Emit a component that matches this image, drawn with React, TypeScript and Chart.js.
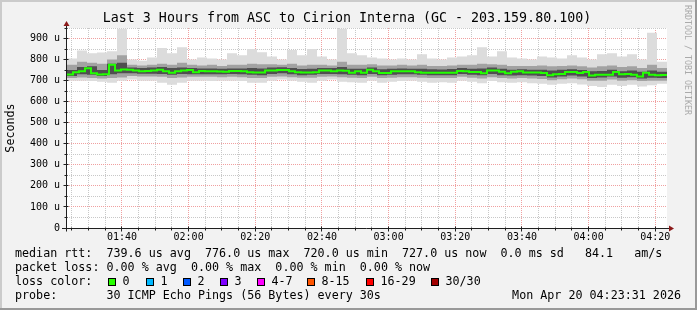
import React, { useEffect, useRef } from "react";
import { Chart, registerables } from "chart.js";
Chart.register(...registerables);

// ---------- text ----------
const titleText = "Last 3 Hours from ASC to Cirion Interna (GC - 203.159.80.100)";
const yAxisTitle = "Seconds";
const watermark = "RRDTOOL / TOBI OETIKER";
const statsMedian = "median rtt:  739.6 us avg  776.0 us max  720.0 us min  727.0 us now  0.0 ms sd   84.1   am/s";
const statsLoss = "packet loss: 0.00 % avg  0.00 % max  0.00 % min  0.00 % now";
const lossTitle = "loss color:";
const probeText = "probe:       30 ICMP Echo Pings (56 Bytes) every 30s";
const dateText = "Mon Apr 20 04:23:31 2026";
const lossLabels = ["0", "1", "2", "3", "4-7", "8-15", "16-29", "30/30"];
const lossColors = ["#26ff00", "#00b8ff", "#0059ff", "#7e00ff", "#ff00ff", "#ff5500", "#ff0000", "#a10000"];

// ---------- time axis (minutes after midnight) ----------
const startMinute = 83 + 31 / 60; // 01:23:31
const endMinute = startMinute + 180; // 04:23:31
const medianStepMin = 1.8;
const smokeStepMin = 3;
const xMajorMinutes = [100, 120, 140, 160, 180, 200, 220, 240, 260];
const xMajorLabels = ["01:40", "02:00", "02:20", "02:40", "03:00", "03:20", "03:40", "04:00", "04:20"];
const xMinorMinutes = [85, 90, 95, 105, 110, 115, 125, 130, 135, 145, 150, 155, 165, 170, 175, 185, 190, 195, 205, 210, 215, 225, 230, 235, 245, 250, 255];

// ---------- value axis (microseconds) ----------
const yMin = 0;
const yMax = 950;
const yMajorValues = [0, 100, 200, 300, 400, 500, 600, 700, 800, 900];
const yMajorLabels = ["0", "100 u", "200 u", "300 u", "400 u", "500 u", "600 u", "700 u", "800 u", "900 u"];
const yMinorValues = [50, 150, 250, 350, 450, 550, 650, 750, 850, 950];

// ---------- series ----------
const medianRtt = [
  729, 740, 745, 759, 735, 729, 730, 775, 748, 753,
  752, 748, 744, 746, 748, 752, 744, 737, 744, 748,
  750, 740, 746, 744, 744, 743, 742, 746, 746, 744,
  740, 739, 739, 748, 748, 751, 751, 744, 740, 739,
  739, 740, 748, 748, 744, 748, 747, 737, 744, 737,
  752, 745, 736, 736, 744, 744, 744, 744, 740, 738,
  737, 737, 737, 737, 737, 746, 744, 741, 741, 735,
  748, 748, 742, 735, 742, 744, 739, 739, 739, 736,
  725, 730, 731, 741, 741, 736, 741, 724, 728, 728,
  728, 741, 730, 732, 728, 720, 738, 728, 726, 727,
];
const smokeMax = [
  805, 843, 830, 834, 840, 947, 800, 795, 810, 855,
  830, 858, 800, 810, 805, 800, 830, 820, 850, 835,
  815, 800, 845, 820, 850, 815, 800, 947, 830, 820,
  810, 805, 800, 805, 800, 825, 805, 800, 810, 815,
  820, 858, 815, 840, 810, 805, 800, 815, 810, 805,
  820, 810, 800, 825, 830, 815, 825, 800, 928, 790,
];
const smokeUpperMid = [
  775, 790, 785, 780, 800, 820, 775, 772, 775, 780,
  775, 785, 775, 772, 775, 770, 775, 775, 780, 778,
  778, 775, 780, 772, 775, 775, 772, 790, 775, 775,
  778, 772, 772, 775, 772, 775, 770, 770, 772, 775,
  775, 780, 778, 775, 770, 770, 770, 772, 768, 770,
  772, 768, 762, 768, 772, 765, 768, 760, 775, 760,
];
const smokeUpperCore = [
  750, 765, 768, 750, 780, 785, 762, 760, 762, 765,
  760, 762, 760, 758, 758, 756, 758, 758, 760, 758,
  762, 763, 760, 755, 756, 760, 760, 765, 757, 757,
  762, 754, 756, 758, 757, 757, 754, 753, 755, 760,
  756, 758, 762, 756, 752, 754, 752, 752, 748, 752,
  754, 750, 745, 746, 752, 745, 748, 742, 748, 742,
];
const smokeLowerCore = [
  722, 730, 728, 722, 730, 735, 735, 733, 733, 732,
  728, 732, 730, 730, 730, 730, 732, 730, 728, 726,
  732, 735, 730, 726, 728, 732, 732, 730, 728, 726,
  732, 726, 728, 730, 730, 728, 726, 726, 726, 732,
  728, 726, 732, 726, 724, 726, 724, 722, 715, 720,
  724, 720, 712, 715, 720, 714, 716, 710, 714, 712,
];
const smokeLowerMid = [
  712, 715, 712, 710, 712, 715, 722, 720, 720, 718,
  712, 715, 718, 718, 718, 716, 718, 716, 712, 712,
  718, 720, 716, 714, 714, 718, 720, 716, 714, 712,
  718, 712, 714, 716, 716, 714, 712, 712, 712, 718,
  714, 710, 716, 712, 710, 712, 710, 708, 702, 706,
  710, 706, 700, 700, 705, 700, 702, 698, 700, 700,
];
const smokeMin = [
  700, 700, 698, 695, 690, 700, 705, 700, 700, 690,
  680, 690, 700, 700, 698, 700, 700, 698, 690, 690,
  700, 705, 700, 695, 690, 700, 705, 695, 692, 690,
  700, 690, 695, 698, 700, 695, 690, 692, 690, 700,
  695, 688, 698, 692, 690, 692, 688, 685, 680, 685,
  688, 682, 675, 670, 680, 675, 680, 672, 678, 685,
];

function toPoints(values: number[], step: number) {
  const pts = values.map((v, i) => ({ x: startMinute + i * step, y: v }));
  pts.push({ x: startMinute + values.length * step, y: values[values.length - 1] });
  return pts;
}

const MONO = "'DejaVu Sans Mono', monospace";
const MAJOR_GRID = "#f0a0a0";
const MINOR_GRID = "#c8c8c8";
const AXIS = "#1f1f1f";
const ARROW = "#8b1a1a";

function align(p: number) {
  return Math.round(p - 0.5) + 0.5;
}

const decor = {
  id: "decor",
  beforeDraw(chart: any) {
    const { ctx, chartArea: a, width, height } = chart;
    ctx.save();
    ctx.fillStyle = "#f2f2f2";
    ctx.fillRect(0, 0, width, height);
    ctx.fillStyle = "#cbcbcb";
    ctx.fillRect(0, 0, width, 2);
    ctx.fillRect(0, 0, 2, height);
    ctx.fillStyle = "#999999";
    ctx.fillRect(0, height - 2, width, 2);
    ctx.fillRect(width - 2, 0, 2, height);
    ctx.fillStyle = "#ffffff";
    ctx.fillRect(a.left, a.top, a.right - a.left, a.bottom - a.top);
    ctx.restore();
  },
  afterDraw(chart: any) {
    const { ctx, chartArea: a, scales } = chart;
    const xs = scales.x;
    const ys = scales.y;
    ctx.save();
    // axes
    const axX = a.left - 0.5;
    const axY = align(ys.getPixelForValue(0));
    ctx.strokeStyle = AXIS;
    ctx.lineWidth = 1;
    ctx.beginPath();
    ctx.moveTo(axX, axY + 3);
    ctx.lineTo(axX, a.top - 5);
    ctx.moveTo(a.left - 5, axY);
    ctx.lineTo(a.right + 4, axY);
    yMajorValues.forEach((v) => {
      const p = align(ys.getPixelForValue(v));
      ctx.moveTo(axX - 3, p);
      ctx.lineTo(axX + 2, p);
    });
    yMinorValues.forEach((v) => {
      const p = align(ys.getPixelForValue(v));
      ctx.moveTo(axX - 2, p);
      ctx.lineTo(axX + 1, p);
    });
    xMajorMinutes.forEach((m) => {
      const p = align(xs.getPixelForValue(m));
      ctx.moveTo(p, axY - 2);
      ctx.lineTo(p, axY + 3);
    });
    xMinorMinutes.forEach((m) => {
      const p = align(xs.getPixelForValue(m));
      ctx.moveTo(p, axY - 1);
      ctx.lineTo(p, axY + 2);
    });
    ctx.stroke();
    // arrows
    ctx.fillStyle = ARROW;
    ctx.beginPath();
    ctx.moveTo(axX, a.top - 7);
    ctx.lineTo(axX - 3, a.top - 2);
    ctx.lineTo(axX + 3, a.top - 2);
    ctx.closePath();
    ctx.fill();
    ctx.beginPath();
    ctx.moveTo(a.right + 7, axY);
    ctx.lineTo(a.right + 2, axY - 3);
    ctx.lineTo(a.right + 2, axY + 3);
    ctx.closePath();
    ctx.fill();

    // title
    ctx.fillStyle = "#000";
    ctx.textBaseline = "middle";
    ctx.textAlign = "center";
    ctx.font = `13.3px ${MONO}`;
    ctx.fillText(titleText, 347, 19);

    // y axis title
    ctx.save();
    ctx.font = `11.7px ${MONO}`;
    ctx.translate(11, (a.top + a.bottom) / 2);
    ctx.rotate(-Math.PI / 2);
    ctx.fillText(yAxisTitle, 0, 0);
    ctx.restore();

    // watermark
    ctx.save();
    ctx.font = `8.3px ${MONO}`;
    ctx.fillStyle = "#aaaaaa";
    ctx.textAlign = "left";
    ctx.translate(687.5, 5);
    ctx.rotate(Math.PI / 2);
    ctx.fillText(watermark, 0, 0);
    ctx.restore();

    // legend
    ctx.font = `11.7px ${MONO}`;
    ctx.textAlign = "left";
    ctx.fillStyle = "#000";
    ctx.fillText(statsMedian, 15, 254);
    ctx.fillText(statsLoss, 15, 268);
    ctx.fillText(lossTitle, 15, 282);
    ctx.fillText(probeText, 15, 296);
    ctx.textAlign = "right";
    ctx.fillText(dateText, 681, 296);
    ctx.textAlign = "left";
    const boxX = [108, 145.5, 182.5, 219.5, 256.5, 307, 366, 431];
    lossLabels.forEach((lab, i) => {
      const bx = Math.round(boxX[i]);
      ctx.fillStyle = lossColors[i];
      ctx.fillRect(bx, 278, 8, 8);
      ctx.strokeStyle = "#000";
      ctx.strokeRect(bx + 0.5, 278.5, 7, 7);
      ctx.fillStyle = "#000";
      ctx.fillText(lab, bx + 14.5, 282);
    });
    ctx.restore();
  },
};

export default function App() {
  const ref = useRef<HTMLCanvasElement>(null);
  useEffect(() => {
    const canvas = ref.current;
    if (!canvas) return;
    const band = (data: number[], bg: string | false, target?: number) => ({
      data: toPoints(data, smokeStepMin),
      stepped: true,
      borderColor: "rgba(0,0,0,0)",
      borderWidth: 0,
      pointRadius: 0,
      backgroundColor: bg || "rgba(0,0,0,0)",
      fill: target === undefined ? false : target,
    });
    const chart = new Chart(canvas, {
      type: "line",
      data: {
        datasets: [
          {
            data: toPoints(medianRtt, medianStepMin),
            stepped: true,
            borderColor: "#22ff00",
            borderWidth: 2,
            pointRadius: 0,
            fill: false,
          } as any,
          band(smokeUpperCore, "#4f4f4f", 2),
          band(smokeLowerCore, false),
          band(smokeUpperMid, "#a2a2a2", 4),
          band(smokeLowerMid, false),
          band(smokeMax, "#dcdcdc", 6),
          band(smokeMin, false),
        ],
      },
      options: {
        responsive: false,
        devicePixelRatio: 1,
        animation: false,
        events: [],
        layout: { padding: { left: 0, right: 30, top: 28, bottom: 0 } },
        plugins: {
          legend: { display: false },
          tooltip: { enabled: false },
          title: { display: false },
        },
        scales: {
          x: {
            type: "linear",
            min: startMinute,
            max: endMinute,
            afterBuildTicks: (s: any) => {
              s.ticks = [...xMinorMinutes, ...xMajorMinutes].sort((p, q) => p - q).map((v) => ({ value: v }));
            },
            afterFit: (s: any) => {
              s.height = 82;
            },
            ticks: {
              autoSkip: false,
              maxRotation: 0,
              minRotation: 0,
              padding: 3,
              color: "#000",
              font: { family: MONO, size: 10 },
              callback: (v: any) => {
                const k = xMajorMinutes.indexOf(Number(v));
                return k >= 0 ? xMajorLabels[k] : "";
              },
            },
            grid: {
              drawTicks: false,
              lineWidth: 1,
              color: (c: any) => (xMajorMinutes.includes(c.tick?.value) ? MAJOR_GRID : MINOR_GRID),
            },
            border: { display: false, dash: [1, 1] },
          },
          y: {
            type: "linear",
            min: yMin,
            max: yMax,
            afterBuildTicks: (s: any) => {
              s.ticks = [...yMajorValues, ...yMinorValues].sort((p, q) => p - q).map((v) => ({ value: v }));
            },
            afterFit: (s: any) => {
              s.width = 67;
            },
            ticks: {
              autoSkip: false,
              padding: 7,
              color: "#000",
              font: { family: MONO, size: 10 },
              callback: (v: any) => {
                const k = yMajorValues.indexOf(Number(v));
                return k >= 0 ? yMajorLabels[k] : "";
              },
            },
            grid: {
              drawTicks: false,
              lineWidth: 1,
              color: (c: any) => (yMajorValues.includes(c.tick?.value) ? MAJOR_GRID : MINOR_GRID),
            },
            border: { display: false, dash: [1, 1] },
          },
        },
      } as any,
      plugins: [decor],
    });
    return () => chart.destroy();
  }, []);
  return (
    <div style={{ position: "fixed", left: 0, top: 0, width: 697, height: 310 }}>
      <canvas ref={ref} width={697} height={310} style={{ display: "block", width: 697, height: 310 }} />
    </div>
  );
}
